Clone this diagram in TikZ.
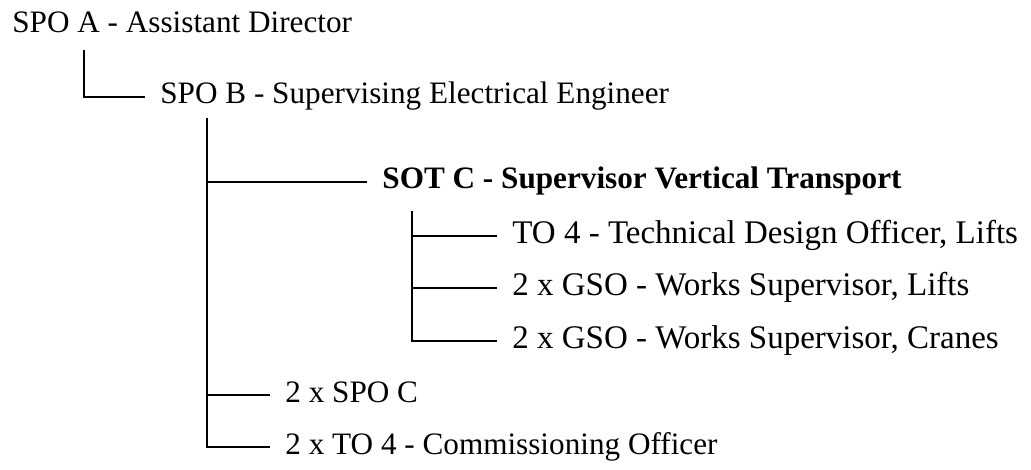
\documentclass[tikz,border=0pt]{standalone}
\usepackage{fontspec}
\setmainfont{Liberation Serif}
\usetikzlibrary{positioning}

\begin{document}
\begin{tikzpicture}[x=0.5pt,y=-0.5pt,
    t/.style={anchor=west,inner xsep=7.5pt,inner ysep=0pt,text height=11pt,text depth=4pt,font=\fontsize{15.6}{19}\selectfont},
    s/.style={t,font=\fontsize{16.5}{20}\selectfont},
    l/.style={line width=0.8pt,draw=black}]
  \useasboundingbox (0,0) rectangle (1031,470);
  % posts
  \node[t] (spoA) at (-3,26) {SPO A - Assistant Director};
  \node[t] (spoB) at (145,97) {SPO B - Supervising Electrical Engineer};
  \node[t,font=\fontsize{15.6}{19}\selectfont\bfseries] (sotC) at (367,182) {SOT C - Supervisor Vertical Transport};
  \node[s] (to4) at (497,236) {TO 4 - Technical Design Officer, Lifts};
  \node[s] (gsoL) at (497,288) {2 x GSO - Works Supervisor, Lifts};
  \node[s] (gsoC) at (497,341) {2 x GSO - Works Supervisor, Cranes};
  \node[t] (spoC) at (270,395) {2 x SPO C};
  \node[t] (to4c) at (270,447) {2 x TO 4 - Commissioning Officer};
  % trunks
  \coordinate (a0) at (84,50);
  \coordinate (b0) at (207,118);
  \coordinate (c0) at (412,211);
  \draw[l] (a0) |- (spoB.west);
  \draw[l] (b0) |- (sotC.west);
  \draw[l] (b0) |- (spoC.west);
  \draw[l] (b0) |- (to4c.west);
  \draw[l] (c0) |- (to4.west);
  \draw[l] (c0) |- (gsoL.west);
  \draw[l] (c0) |- (gsoC.west);
\end{tikzpicture}
\end{document}
